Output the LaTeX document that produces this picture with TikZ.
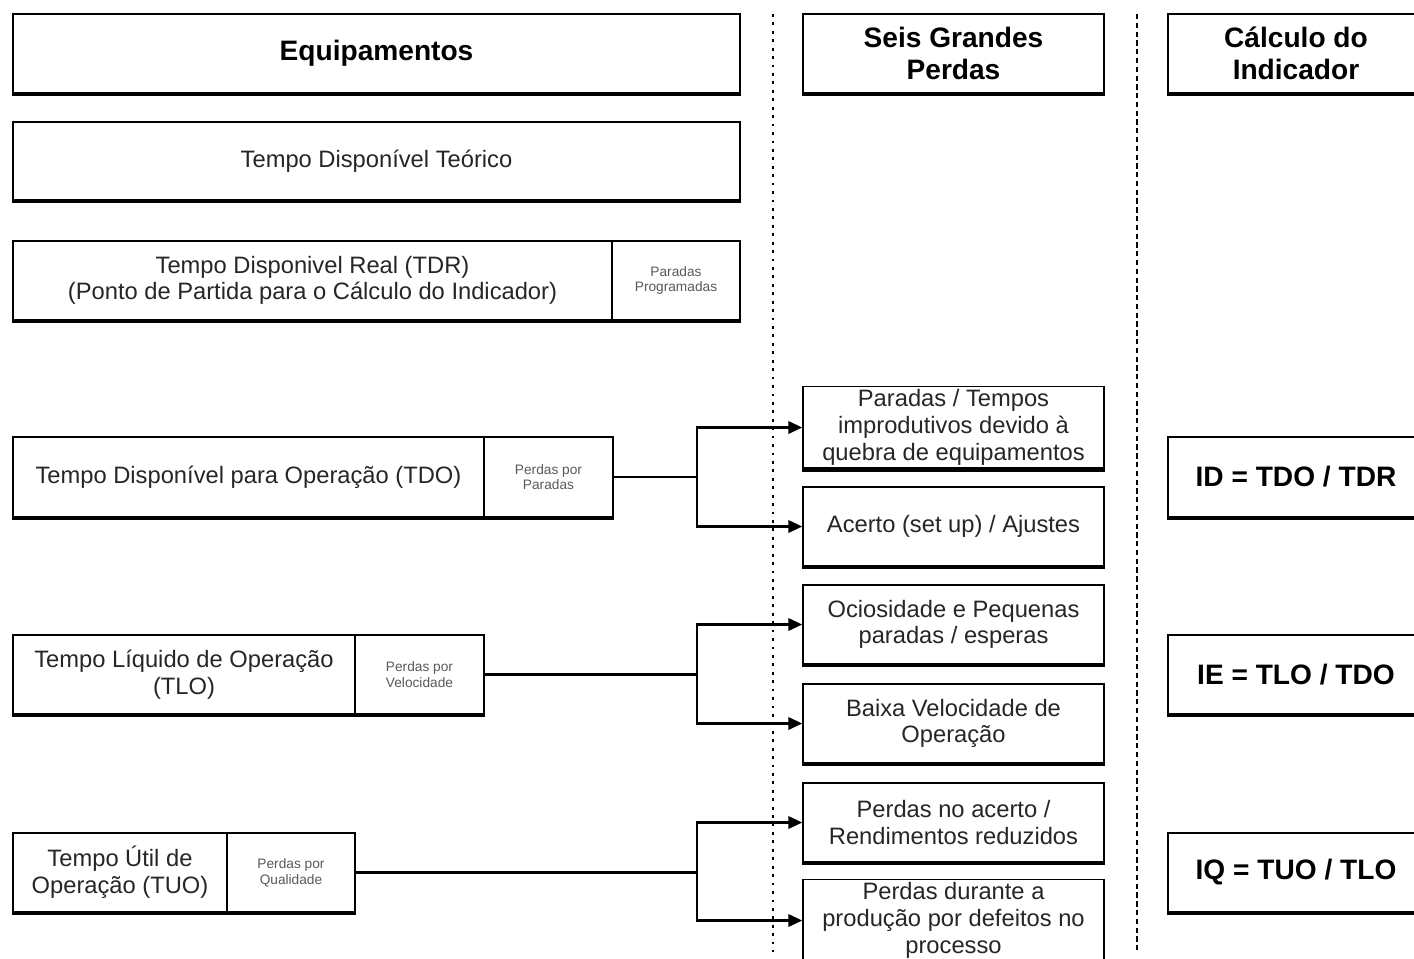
\documentclass[tikz,border=0pt]{standalone}
\usepackage{fontspec}
\setmainfont{Liberation Sans}
\usetikzlibrary{arrows.meta}
\tikzset{
  box/.style={draw=black, line width=0.8pt, fill=white, align=center, inner sep=2pt,
    font=\fontsize{13.5}{15.2}\selectfont, text=black!85},
  hbox/.style={box, font=\bfseries\fontsize{16}{18.5}\selectfont, text=black},
  sbox/.style={box, font=\fontsize{7.8}{9}\selectfont, text=black!65},
  conn/.style={draw=black, line width=1.6pt},
  thinconn/.style={draw=black, line width=0.9pt},
  arr/.style={conn, -{Triangle[length=8pt,width=7pt]}},
  sepdot/.style={draw=black, line width=1.6pt, dash pattern=on 1.6pt off 3.2pt},
  sepdash/.style={draw=black, line width=1.6pt, dash pattern=on 3pt off 2pt},
  shadow/.style={draw=black, line width=2.4pt}
}
\begin{document}
\begin{tikzpicture}[x=0.02cm,y=-0.02cm]
\useasboundingbox (0,0) rectangle (1414,958);
\clip (0,0) rectangle (1414,958);
% separators
\coordinate (s1t) at (773,14); \coordinate (s1b) at (773,952);
\coordinate (s2t) at (1137,14); \coordinate (s2b) at (1137,952);
\draw[sepdot] (s1t) -- (s1b);
\draw[sepdash] (s2t) -- (s2b);
% left column
\node[hbox, minimum width=14.54cm, minimum height=1.58cm] (eq) at (376.5,53.5) {Equipamentos};
\node[box, minimum width=14.54cm, minimum height=1.56cm] (teo) at (376.5,161) {Tempo Disponível Teórico};
\node[box, minimum width=11.98cm, minimum height=1.58cm] (tdr) at (312.5,280.5) {Tempo Disponivel Real (TDR)\\(Ponto de Partida para o Cálculo do Indicador)};
\node[sbox, minimum width=2.56cm, minimum height=1.58cm] (pprog) at (676,280.5) {Paradas\\Programadas};
\node[box, minimum width=9.42cm, minimum height=1.6cm] (tdo) at (248.5,477) {Tempo Disponível para Operação (TDO)};
\node[sbox, minimum width=2.58cm, minimum height=1.6cm] (ppar) at (548.5,477) {Perdas por\\Paradas};
\node[box, minimum width=6.84cm, minimum height=1.58cm] (tlo) at (184,674.5) {Tempo Líquido de Operação\\(TLO)};
\node[sbox, minimum width=2.58cm, minimum height=1.58cm] (pvel) at (419.5,674.5) {Perdas por\\Velocidade};
\node[box, minimum width=4.28cm, minimum height=1.58cm] (tuo) at (120,872.5) {Tempo Útil de\\Operação (TUO)};
\node[sbox, minimum width=2.56cm, minimum height=1.58cm] (pqual) at (291,872.5) {Perdas por\\Qualidade};
% middle column
\node[hbox, minimum width=6.02cm, minimum height=1.58cm] (seis) at (953.5,53.5) {Seis Grandes\\Perdas};
\node[box, minimum width=6.02cm, minimum height=1.58cm] (b1) at (953.5,427.5) {Paradas / Tempos\\improdutivos devido à\\quebra de equipamentos};
\node[box, minimum width=6.02cm, minimum height=1.58cm] (b2) at (953.5,526.5) {Acerto (set up) / Ajustes};
\node[box, minimum width=6.02cm, minimum height=1.58cm] (b3) at (953.5,624.5) {Ociosidade e Pequenas\\paradas / esperas};
\node[box, minimum width=6.02cm, minimum height=1.58cm] (b4) at (953.5,723.5) {Baixa Velocidade de\\Operação};
\node[box, minimum width=6.02cm, minimum height=1.58cm] (b5) at (953.5,822.5) {Perdas no acerto /\\Rendimentos reduzidos};
\node[box, minimum width=6.02cm, minimum height=1.58cm] (b6) at (953.5,920.5) {Perdas durante a\\produção por defeitos no\\processo};
% right column
\node[hbox, minimum width=5.12cm, minimum height=1.58cm] (calc) at (1296,53.5) {Cálculo do\\Indicador};
\node[hbox, minimum width=5.12cm, minimum height=1.6cm] (id) at (1296,477) {ID = TDO / TDR};
\node[hbox, minimum width=5.12cm, minimum height=1.58cm] (ie) at (1296,674.5) {IE = TLO / TDO};
\node[hbox, minimum width=5.12cm, minimum height=1.58cm] (iq) at (1296,872.5) {IQ = TUO / TLO};
% shadows (thick bottom edges)
\foreach \n in {eq,teo,tdr,pprog,tdo,ppar,tlo,pvel,tuo,pqual,seis,b1,b2,b3,b4,b5,calc,id,ie,iq}
  \draw[shadow] (\n.south west) -- (\n.south east);
% connectors
\coordinate (jx) at (697,0);
\draw[thinconn] (ppar.east) -- (ppar.east -| jx) coordinate (j1);
\draw[arr] (j1) |- (b1.west);
\draw[arr] (j1) |- (b2.west);
\draw[conn] (pvel.east) -- (pvel.east -| jx) coordinate (j2);
\draw[arr] (j2) |- (b3.west);
\draw[arr] (j2) |- (b4.west);
\draw[conn] (pqual.east) -- (pqual.east -| jx) coordinate (j3);
\draw[arr] (j3) |- (b5.west);
\draw[arr] (j3) |- (b6.west);
\end{tikzpicture}
\end{document}
